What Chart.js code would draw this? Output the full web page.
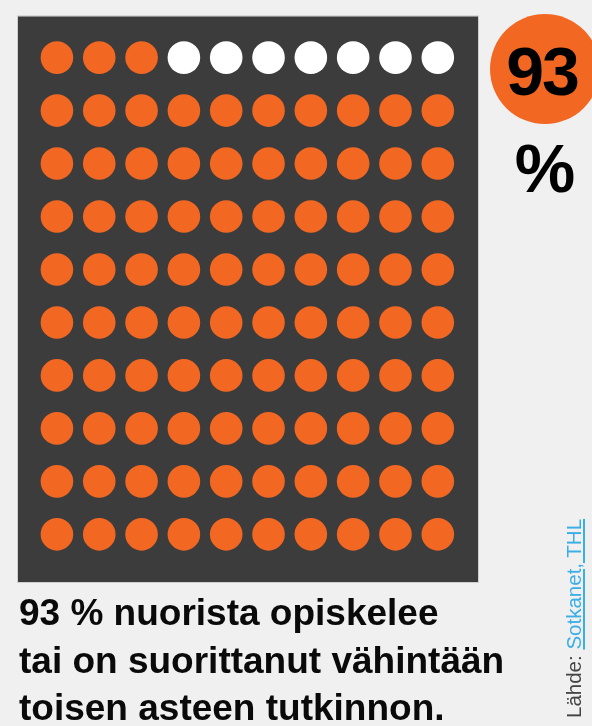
<!DOCTYPE html>
<html>
<head>
<meta charset="utf-8">
<script src="https://cdn.jsdelivr.net/npm/chart.js@4.4.1/dist/chart.umd.min.js"></script>
<style>
  html, body { margin: 0; padding: 0; background: #f0f0f0; }
  body { width: 592px; height: 726px; position: relative; overflow: hidden; font-family: "Liberation Sans", Arial, sans-serif; }
  #wrap { position: absolute; left: 0; top: 0; width: 592px; height: 726px; }
  .badge { position: absolute; left: 490px; top: 14px; width: 110px; height: 110px; border-radius: 50%; background: #f26722; }
  .badge span { position: absolute; left: -3px; width: 110px; top: 23px; text-align: center; font-size: 68px; font-weight: bold; letter-spacing: -2px; color: #000; line-height: 1; }
  .pct { position: absolute; left: 505px; top: 134px; width: 80px; text-align: center; font-size: 68px; font-weight: bold; color: #000; line-height: 1; }
  .caption { position: absolute; left: 19px; top: 589px; font-size: 37px; font-weight: bold; line-height: 47.5px; color: #0a0a0a; white-space: nowrap; }
  .source { position: absolute; left: 562px; top: 718px; transform: rotate(-90deg); transform-origin: 0 0; font-size: 20.5px; line-height: 24px; color: #444; white-space: nowrap; }
  .source a { color: #3aaee6; text-decoration: underline; }
</style>
</head>
<body>
<div id="wrap"><canvas id="chart" width="592" height="726"></canvas></div>
<div class="badge"><span>93</span></div>
<div class="pct">%</div>
<div class="caption">93 % nuorista opiskelee<br>tai on suorittanut vähintään<br>toisen asteen tutkinnon.</div>
<div class="source">Lähde: <a>Sotkanet, THL</a></div>
<script>
// one entry per row of the 10x10 grid: how many dots are filled (93 of 100)
const filledPerRow = [3, 10, 10, 10, 10, 10, 10, 10, 10, 10];
const columns = [1, 2, 3, 4, 5, 6, 7, 8, 9, 10];
const rows = [1, 2, 3, 4, 5, 6, 7, 8, 9, 10];

const orange = '#f26722';
const white = '#ffffff';

const filled = [];
const empty = [];
rows.forEach((r, i) => {
    columns.forEach(c => {
        // filled dots sit at the start of the row in the picture
        if (c <= filledPerRow[i]) filled.push({ x: c, y: r });
        else empty.push({ x: c, y: r });
    });
});

const panelBg = {
    id: 'panelBg',
    beforeDraw(chart) {
        const { ctx, chartArea: a } = chart;
        ctx.save();
        ctx.fillStyle = '#3c3c3c';
        ctx.fillRect(a.left, a.top, a.right - a.left, a.bottom - a.top);
        ctx.strokeStyle = '#cfcfcf';
        ctx.lineWidth = 1;
        ctx.strokeRect(a.left - 0.5, a.top - 0.5, a.right - a.left + 1, a.bottom - a.top + 1);
        ctx.restore();
    }
};

new Chart(document.getElementById('chart'), {
    type: 'scatter',
    data: {
        datasets: [
            { label: 'Kyllä', data: filled, backgroundColor: orange, borderWidth: 0, pointRadius: 16.3, pointHoverRadius: 16.3 },
            { label: 'Ei', data: empty, backgroundColor: white, borderWidth: 0, pointRadius: 16.3, pointHoverRadius: 16.3 }
        ]
    },
    plugins: [panelBg],
    options: {
        responsive: false,
        animation: false,
        layout: { padding: { left: 18, top: 10, right: 114, bottom: 144 } },
        plugins: { legend: { display: false }, tooltip: { enabled: false } },
        scales: {
            x: { display: false, min: 0.08, max: 10.95 },
            y: { display: false, reverse: true, min: 0.22, max: 10.9 }
        }
    }
});
</script>
</body>
</html>
